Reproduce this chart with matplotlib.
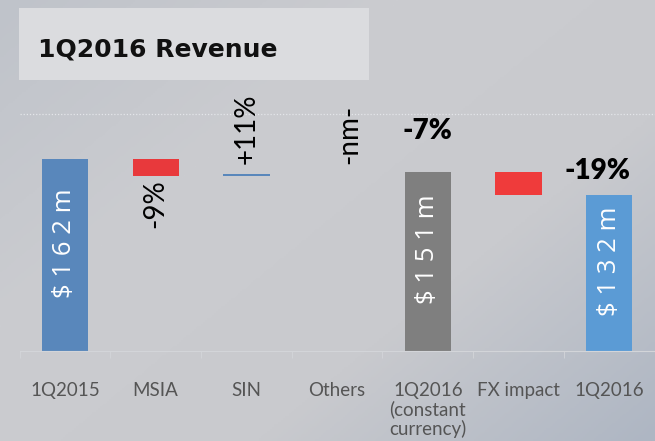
import numpy as np
import matplotlib.pyplot as plt
from matplotlib.patches import Rectangle
from matplotlib.colors import LinearSegmentedColormap

plt.rcParams['font.family'] = ['Lato', 'DejaVu Sans']

# waterfall data ($m)
categories = ["1Q2015", "MSIA", "SIN", "Others", "1Q2016\n(constant\ncurrency)", "FX impact", "1Q2016"]
bar_low = [0, 148, 148, 149.6, 0, 132, 0]
bar_high = [162, 162, 149.6, 149.6, 151, 151, 132]
bar_colors = ["#5987BB", "#E8393C", "#5987BB", "#5987BB", "#7F7F7F", "#EF3B3B", "#5B9BD5"]
value_labels = ["$ 1 6 2 m", None, None, None, "$ 1 5 1 m", None, "$ 1 3 2 m"]
change_labels = ["", "-9%", "+11%", "-nm-", "-7%", "", "-19%"]

fig = plt.figure(figsize=(6.55, 4.41), dpi=100)

# soft grey background gradient
bg = fig.add_axes([0, 0, 1, 1], zorder=-10)
cmap = LinearSegmentedColormap.from_list("bg", ["#BFC3CA", "#CBCCD0", "#C9CACE", "#AEB6C3"])
yy, xx = np.mgrid[0:1:200j, 0:1:300j]
grad = 0.55 * xx + 0.45 * yy
bg.imshow(grad, cmap=cmap, vmin=0, vmax=1, aspect="auto", extent=[0, 1, 0, 1])
bg.set_axis_off()

# title box
fig.patches.append(Rectangle((19 / 655, 1 - 80 / 441), 350 / 655, 72 / 441,
                             transform=fig.transFigure, facecolor="#DBDCDF", edgecolor="none"))
fig.text(38 / 655, 1 - 49 / 441, "1Q2016 Revenue", fontsize=18, fontweight="bold",
         va="center", ha="left", color="#111111", family=["DejaVu Sans"])

ax = fig.add_axes([19.6 / 655, 1 - 351 / 441, 635 / 655, 237 / 441])
ax.set_facecolor("none")
x = np.arange(len(categories))
heights = [h - l for h, l in zip(bar_high, bar_low)]
ax.bar(x, heights, bottom=bar_low, width=0.51, color=bar_colors, zorder=2)

ax.set_xlim(-0.5, len(categories) - 0.5)
ax.set_ylim(0, 200)
ax.axhline(200, color="#E4E6EA", linestyle=(0, (1, 1.5)), linewidth=0.9, clip_on=False)

for s in ["top", "right", "left"]:
    ax.spines[s].set_visible(False)
ax.spines["bottom"].set_color("#D3D5D9")
ax.set_yticks([])
ax.set_xticks(x)
ax.set_xticklabels(categories, fontsize=13.5, color="#555555", linespacing=1.12)
ax.tick_params(axis="x", length=0, pad=22)
ax.set_xticks(np.arange(len(categories) + 1) - 0.5, minor=True)
ax.tick_params(axis="x", which="minor", length=5, color="#D3D5D9")

# labels inside bars
for i, lab in enumerate(value_labels):
    if lab:
        ax.text(i, bar_high[i] / 2 + 10, lab, rotation=90, ha="center", va="center",
                color="white", fontsize=18.5, family=["Open Sans", "DejaVu Sans"])

# change labels
ax.text(1, 145, change_labels[1], rotation=90, ha="center", va="top", fontsize=20, color="black")
ax.text(2, 158, change_labels[2], rotation=90, ha="center", va="bottom", fontsize=20, color="black")
ax.text(3.13, 158, change_labels[3], rotation=90, ha="center", va="bottom", fontsize=20, color="black")
ax.text(4, 175, change_labels[4], ha="center", va="bottom", fontsize=20, fontweight="heavy", color="black")
ax.text(5.87, 141, change_labels[6], ha="center", va="bottom", fontsize=20, fontweight="heavy", color="black")

plt.savefig("out.png", dpi=100)
